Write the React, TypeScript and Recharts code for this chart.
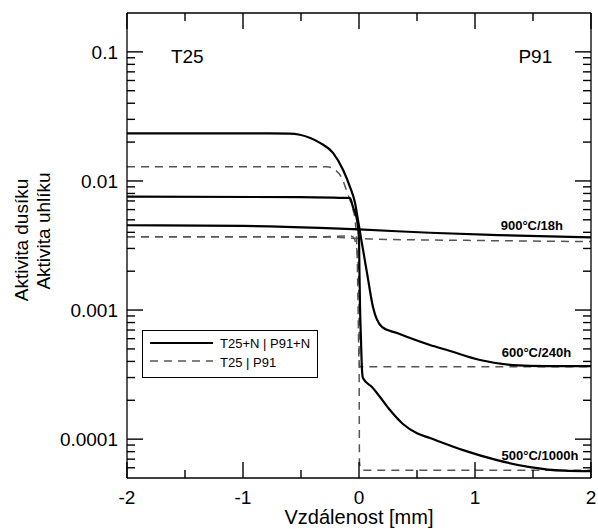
import React from 'react';
import { LineChart, Line, XAxis, YAxis, Legend, ReferenceDot, Label } from 'recharts';

const FONT = "Arial, 'Liberation Sans', Helvetica, sans-serif";

// x [mm] / activity pairs
const n600 = [
  [-2, 0.0234], [-0.85, 0.0234], [-0.6, 0.0233], [-0.51, 0.0228], [-0.336, 0.0197], [-0.224, 0.0165],
  [-0.138, 0.0122], [-0.078, 0.009], [-0.034, 0.00675], [-0.009, 0.005], [0.02, 0.0035], [0.069, 0.00194],
  [0.121, 0.00105], [0.198, 0.00074], [0.328, 0.000663], [0.612, 0.000536], [0.759, 0.00049],
  [1.043, 0.00041], [1.328, 0.000375], [1.62, 0.000368], [2, 0.000368],
];
const n500 = [
  [-2, 0.00755], [-0.5, 0.0075], [-0.138, 0.0074], [-0.078, 0.00738], [-0.052, 0.00628], [-0.017, 0.005],
  [0, 0.0035], [0.004, 0.00194], [0.009, 0.00105], [0.017, 0.000585], [0.026, 0.000343], [0.034, 0.000297],
  [0.112, 0.000253], [0.181, 0.000212], [0.267, 0.000168], [0.379, 0.000131], [0.5, 0.000111],
  [0.612, 0.000102], [0.897, 0.0000822], [1.19, 0.0000688], [1.474, 0.0000607], [1.759, 0.000057], [2, 0.0000565],
];
const n900 = [
  [-2, 0.00454], [-1, 0.00448], [-0.34, 0.00433], [0, 0.00421], [0.61, 0.00397], [1.2, 0.00381], [2, 0.00366],
];
const c600 = [
  [-2, 0.0129], [-0.28, 0.0129], [-0.207, 0.0122], [-0.147, 0.0105], [-0.103, 0.0082], [-0.06, 0.0063],
  [-0.034, 0.005], [-0.017, 0.0029], [-0.009, 0.0012], [0, 0.00041], [0.009, 0.000363], [2, 0.000363],
];
const c500 = [
  [-2, 0.0037], [-0.3, 0.0037], [-0.078, 0.00375], [-0.043, 0.00361], [-0.026, 0.00319], [-0.009, 0.00244],
  [0, 0.0012], [0.002, 0.0002], [0.004, 0.0000664], [0.017, 0.0000585], [0.034, 0.0000575], [2, 0.0000575],
];
const c900 = [
  [-2, 0.0037], [-0.3, 0.00368], [0, 0.00358], [0.1, 0.00355], [1, 0.00346], [2, 0.00339],
];

const xTicks = [-2, -1.5, -1, -0.5, 0, 0.5, 1, 1.5, 2];
const yTicks = [
  0.00006, 0.00007, 0.00008, 0.00009,
  0.0001, 0.0002, 0.0003, 0.0004, 0.0005, 0.0006, 0.0007, 0.0008, 0.0009,
  0.001, 0.002, 0.003, 0.004, 0.005, 0.006, 0.007, 0.008, 0.009,
  0.01, 0.02, 0.03, 0.04, 0.05, 0.06, 0.07, 0.08, 0.09, 0.1,
];
const yLabelled = [0.0001, 0.001, 0.01, 0.1];

const seriesLabels = [
  { text: '900°C/18h', x: 1.49, y: 0.00456 },
  { text: '600°C/240h', x: 1.53, y: 0.000469 },
  { text: '500°C/1000h', x: 1.56, y: 0.0000755 },
];
const steelLabels = [
  { text: 'T25', x: -1.48, y: 0.092 },
  { text: 'P91', x: 1.52, y: 0.092 },
];
const legendItems = [
  { label: 'T25+N | P91+N', dashed: false },
  { label: 'T25 | P91', dashed: true },
];

const toPts = (arr: number[][]) => arr.map(([x, v]) => ({ x, v }));
const isMajorY = (v: number) => yLabelled.some((d) => Math.abs(d - v) / d < 1e-6);

// tick marks point into the plot
const leftTick = (p: any) => {
  const x = Number(p.x), y = Number(p.y);
  const major = isMajorY(p.payload.value);
  return (
    <g>
      <path d={`M${x},${y}H${x + (major ? 16 : 8)}`} stroke="#000" strokeWidth={1.4} fill="none" />
      {major && (
        <text x={x - 9} y={y} dy="0.36em" textAnchor="end" fontSize={19} fontFamily={FONT} fill="#000">
          {String(p.payload.value)}
        </text>
      )}
    </g>
  );
};
const rightTick = (p: any) => {
  const x = Number(p.x), y = Number(p.y);
  const major = isMajorY(p.payload.value);
  return <path d={`M${x},${y}H${x - (major ? 16 : 8)}`} stroke="#000" strokeWidth={1.4} fill="none" />;
};
const bottomTick = (p: any) => {
  const x = Number(p.x), y = Number(p.y);
  const major = Number.isInteger(p.payload.value);
  return (
    <g>
      <path d={`M${x},${y}V${y - (major ? 16 : 8)}`} stroke="#000" strokeWidth={1.4} fill="none" />
      {major && (
        <text x={x} y={y + 26} textAnchor="middle" fontSize={19} fontFamily={FONT} fill="#000">
          {String(p.payload.value)}
        </text>
      )}
    </g>
  );
};
const topTick = (p: any) => {
  const x = Number(p.x), y = Number(p.y);
  const major = Number.isInteger(p.payload.value);
  return <path d={`M${x},${y}V${y + (major ? 16 : 8)}`} stroke="#000" strokeWidth={1.4} fill="none" />;
};

const LegendBox = () => (
  <svg width={176} height={48} style={{ display: 'block' }}>
    <rect x={0.5} y={0.5} width={175} height={47} fill="#fff" stroke="#000" />
    {legendItems.map((it, i) => (
      <g key={it.label}>
        <line
          x1={8} x2={71} y1={13 + i * 18} y2={13 + i * 18}
          stroke={it.dashed ? '#555' : '#000'}
          strokeWidth={it.dashed ? 1.5 : 2.2}
          strokeDasharray={it.dashed ? '8 6' : undefined}
        />
        <text x={78} y={18 + i * 18.5} fontSize={13} fontFamily={FONT} fill="#000">{it.label}</text>
      </g>
    ))}
  </svg>
);

const axisLine = { stroke: '#000', strokeWidth: 1.3 };
const solid = { stroke: '#000', strokeWidth: 2.2 };
const dashed = { stroke: '#555', strokeWidth: 1.5, strokeDasharray: '8 6' };

export default function App() {
  return (
    <div style={{ position: 'absolute', left: 0, top: 0 }}>
      <LineChart width={598} height={529} margin={{ top: 12, right: 6, bottom: 50, left: 126 }}>
        <XAxis xAxisId="b" type="number" dataKey="x" domain={[-2, 2]} ticks={xTicks} interval={0}
          allowDataOverflow height={1} tickSize={0} tickMargin={0} tickLine={false} tick={bottomTick} axisLine={axisLine}>
          <Label content={({ viewBox }: any) => (
            <text x={viewBox.x + viewBox.width / 2} y={524} textAnchor="middle" fontSize={20} fontFamily={FONT} fill="#000">
              Vzdálenost [mm]
            </text>
          )} />
        </XAxis>
        <XAxis xAxisId="t" orientation="top" type="number" dataKey="x" domain={[-2, 2]} ticks={xTicks} interval={0}
          allowDataOverflow height={1} tickSize={0} tickMargin={0} tickLine={false} tick={topTick} axisLine={axisLine} />
        <YAxis yAxisId="l" type="number" scale="log" domain={[0.00005, 0.2]} ticks={yTicks} interval={0}
          allowDataOverflow width={1} tickSize={0} tickMargin={0} tickLine={false} tick={leftTick} axisLine={axisLine}>
          <Label content={() => (
            <g fontSize={19} fontFamily={FONT} fill="#000">
              <text x={28} y={240} textAnchor="middle" transform="rotate(-90 28 240)">Aktivita dusíku</text>
              <text x={50} y={231} textAnchor="middle" transform="rotate(-90 50 231)">Aktivita uhlíku</text>
            </g>
          )} />
        </YAxis>
        <YAxis yAxisId="r" orientation="right" type="number" scale="log" domain={[0.00005, 0.2]} ticks={yTicks}
          interval={0} allowDataOverflow width={1} tickSize={0} tickMargin={0} tickLine={false} tick={rightTick} axisLine={axisLine} />

        <Legend layout="vertical" align="center" verticalAlign="middle" content={<LegendBox />}
          wrapperStyle={{ left: 142, top: 330, width: 176, height: 48 }} />

        <Line xAxisId="t" yAxisId="r" data={toPts(n900)} dataKey="v" stroke="none" dot={false}
          isAnimationActive={false} legendType="none" />

        <Line xAxisId="b" yAxisId="l" data={toPts(c900)} dataKey="v" type="monotone" {...dashed} dot={false} isAnimationActive={false} />
        <Line xAxisId="b" yAxisId="l" data={toPts(c600)} dataKey="v" type="monotone" {...dashed} dot={false} isAnimationActive={false} />
        <Line xAxisId="b" yAxisId="l" data={toPts(c500)} dataKey="v" type="monotone" {...dashed} dot={false} isAnimationActive={false} />
        <Line xAxisId="b" yAxisId="l" data={toPts(n900)} dataKey="v" type="monotone" {...solid} dot={false} isAnimationActive={false} />
        <Line xAxisId="b" yAxisId="l" data={toPts(n600)} dataKey="v" type="monotone" {...solid} dot={false} isAnimationActive={false} />
        <Line xAxisId="b" yAxisId="l" data={toPts(n500)} dataKey="v" type="monotone" {...solid} dot={false} isAnimationActive={false} />

        {seriesLabels.map((l) => (
          <ReferenceDot key={l.text} xAxisId="b" yAxisId="l" x={l.x} y={l.y} r={0} stroke="none" fill="none"
            label={{ value: l.text, position: 'center', fontSize: 13, fontWeight: 'bold', fontFamily: FONT, fill: '#000' }} />
        ))}
        {steelLabels.map((l) => (
          <ReferenceDot key={l.text} xAxisId="b" yAxisId="l" x={l.x} y={l.y} r={0} stroke="none" fill="none"
            label={{ value: l.text, position: 'center', fontSize: 19, fontFamily: FONT, fill: '#000' }} />
        ))}
      </LineChart>
    </div>
  );
}
